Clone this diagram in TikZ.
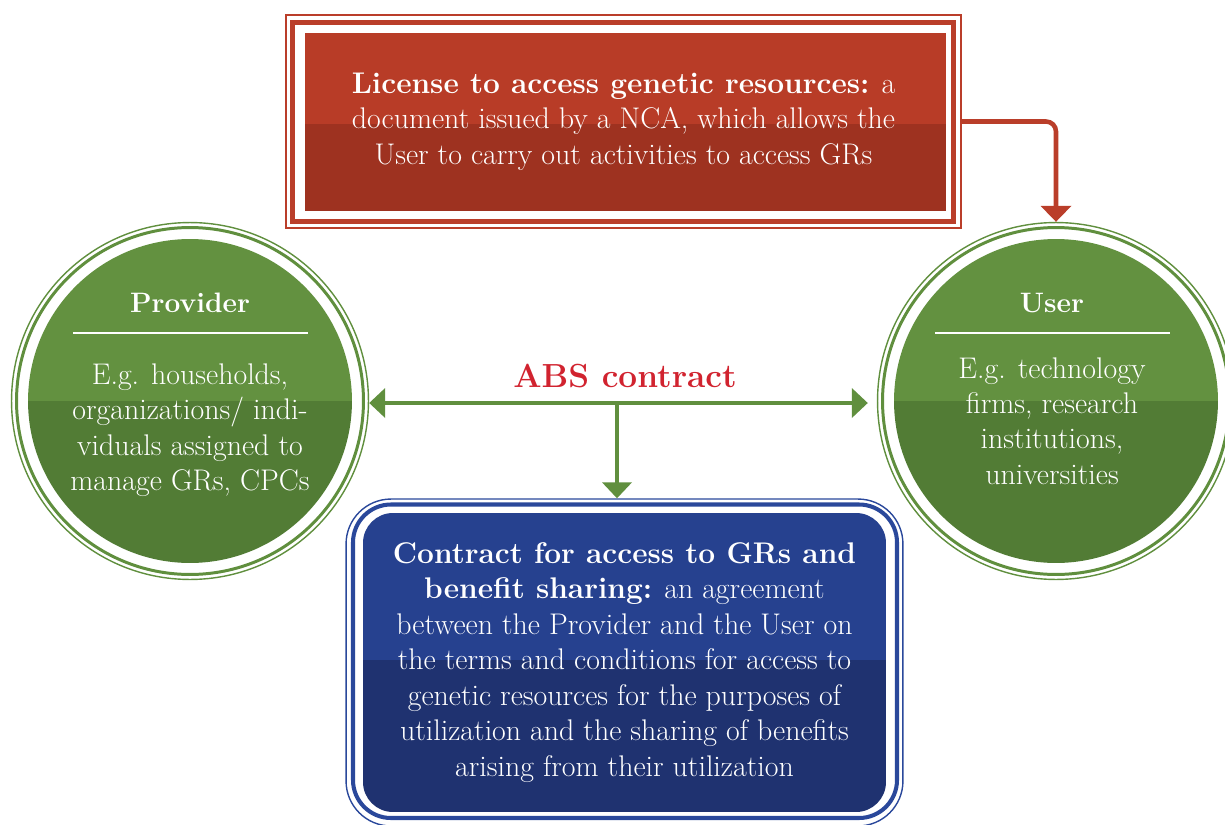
\documentclass[tikz,border=0pt]{standalone}
\usepackage{amsmath}
\usepackage{tikz}
\usetikzlibrary{arrows.meta}

\definecolor{redtop}{RGB}{184,60,39}
\definecolor{redbot}{RGB}{158,50,32}
\definecolor{redline}{RGB}{186,62,42}
\definecolor{greentop}{RGB}{99,145,64}
\definecolor{greenbot}{RGB}{82,124,53}
\definecolor{greenline}{RGB}{96,143,62}
\definecolor{bluetop}{RGB}{38,65,143}
\definecolor{bluebot}{RGB}{31,50,112}
\definecolor{blueline}{RGB}{42,72,155}
\definecolor{abstext}{RGB}{209,35,47}

\begin{document}
\begin{tikzpicture}[x=0.02cm, y=-0.02cm,
    bodytext/.style={align=center, text=white, inner sep=0pt, font=\fontsize{17}{20.2}\selectfont},
    headtext/.style={text=white, inner sep=0pt, font=\fontsize{16}{20.2}\selectfont\bfseries},
    ring/.style={circle, draw=greenline, line width=0.8pt, minimum size=7.14cm, inner sep=0pt},
    licbox/.style={draw=redline, line width=0.8pt, minimum width=13.5cm, minimum height=4.26cm, inner sep=0pt},
    contractbox/.style={draw=blueline, line width=0.8pt, rounded corners=0.9cm, minimum width=11.14cm, minimum height=6.54cm, inner sep=0pt},
    greenarrow/.style={draw=greenline, line width=2.8pt, >={Triangle[width=0.58cm,length=0.32cm]}},
    redarrow/.style={draw=redline, line width=2.6pt, rounded corners=0.2cm, ->, >={Triangle[width=0.6cm,length=0.32cm]}}
]
    \useasboundingbox (0,0) rectangle (1225,825);

    % License box - two tone fill, double border
    \fill[redtop] (305,33) rectangle (946,124);
    \fill[redbot] (305,124) rectangle (946,211);
    \draw[redline, line width=2.8pt] (292.5,22.5) rectangle (953.5,221.5);
    \node[licbox, bodytext] (license) at (623.5,121.5) {\textbf{License to access genetic resources:} a\\document issued by a NCA, which allows the\\User to carry out activities to access GRs};

    % Provider circle
    \begin{scope}
        \clip (190,401) circle (3.24cm);
        \fill[greentop] (20,230) rectangle (360,401);
        \fill[greenbot] (20,401) rectangle (360,570);
    \end{scope}
    \draw[greenline, line width=1.7pt] (190,401) circle (3.47cm);
    \node[ring] (provider) at (190,401) {};
    \node[headtext] (providerhead) at (190,303) {Provider};
    \draw[white, line width=1.2pt] (73,333) -- (308,333);
    \node[bodytext] (providerbody) at (190,430) {E.g. households,\\organizations/ indi-\\viduals assigned to\\manage GRs, CPCs};

    % User circle
    \begin{scope}
        \clip (1056,401) circle (3.24cm);
        \fill[greentop] (886,230) rectangle (1226,401);
        \fill[greenbot] (886,401) rectangle (1226,570);
    \end{scope}
    \draw[greenline, line width=1.7pt] (1056,401) circle (3.47cm);
    \node[ring] (user) at (1056,401) {};
    \node[headtext] (userhead) at (1052,303) {User};
    \draw[white, line width=1.2pt] (935,333) -- (1170,333);
    \node[bodytext] (userbody) at (1052,421) {E.g. technology\\firms, research\\institutions,\\universities};

    % Contract box - rounded, two tone fill
    \begin{scope}
        \clip[rounded corners=0.6cm] (363,513) rectangle (886,812);
        \fill[bluetop] (363,513) rectangle (886,660);
        \fill[bluebot] (363,660) rectangle (886,812);
    \end{scope}
    \draw[blueline, line width=2.3pt, rounded corners=0.76cm] (353,504.5) rectangle (897,818);
    \node[contractbox, bodytext] (contract) at (624.5,662.5) {\textbf{Contract for access to GRs and}\\\textbf{benefit sharing:} an agreement\\between the Provider and the User on\\the terms and conditions for access to\\genetic resources for the purposes of\\utilization and the sharing of benefits\\arising from their utilization};

    % ABS contract label and arrows
    \node[text=abstext, font=\fontsize{19}{22}\selectfont\bfseries] (abs) at (625,376) {ABS contract};
    \coordinate (fork) at (617,403);
    \draw[greenarrow, <->] ([yshift=-0.04cm]provider.east) -- ([yshift=-0.04cm, xshift=-0.18cm]user.west);
    \draw[greenarrow, ->] (fork) -- (fork |- contract.north);
    \draw[redarrow] (license.east) -| (user.north);
\end{tikzpicture}
\end{document}
